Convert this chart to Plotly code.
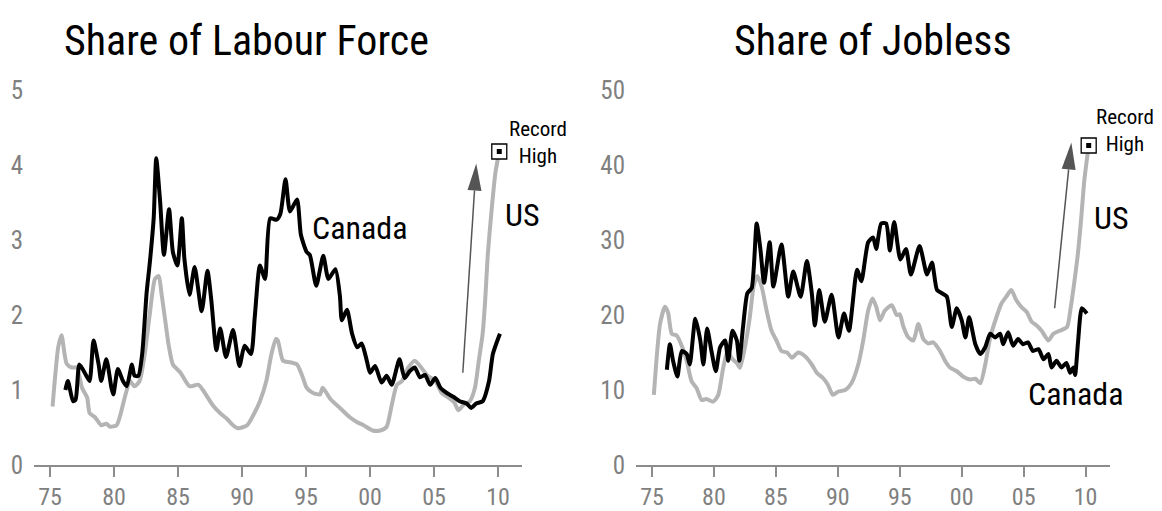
import math
import plotly.graph_objects as go

# ---------------- data ----------------
tick_years = [1975, 1980, 1985, 1990, 1995, 2000, 2005, 2010]
tick_text = ["75", "80", "85", "90", "95", "00", "05", "10"]

lf_us_years = [1975.2, 1975.65, 1975.9, 1976.3, 1976.7, 1977.1, 1977.5, 1977.9, 1978.1, 1978.5,
               1979.0, 1979.4, 1979.7, 1980.2, 1980.5, 1980.9, 1981.25, 1981.6, 1982.0, 1982.4,
               1982.8, 1983.2, 1983.5, 1983.7, 1984.0, 1984.25, 1984.6, 1985.2, 1985.9, 1986.6,
               1987.1, 1987.7, 1988.3, 1988.8, 1989.3, 1989.7, 1990.4, 1990.9, 1991.4, 1991.9,
               1992.3, 1992.65, 1992.8, 1993.2, 1993.75, 1994.3, 1994.7, 1995.05, 1995.55, 1996.1,
               1996.3, 1996.9, 1997.65, 1998.4, 1999.0, 1999.5, 2000.2, 2000.8, 2001.3, 2001.7,
               2002.1, 2002.5, 2003.0, 2003.5, 2004.0, 2004.5, 2005.1, 2005.6, 2006.1, 2006.6,
               2006.9, 2007.3, 2007.8, 2008.2, 2008.5, 2008.8, 2009.0, 2009.2, 2009.5, 2009.8, 2010.1]
lf_us_vals = [0.78, 1.58, 1.73, 1.35, 1.30, 1.30, 1.03, 0.90, 0.69, 0.64,
              0.53, 0.55, 0.51, 0.53, 0.67, 0.94, 1.12, 1.05, 1.12, 1.48,
              2.02, 2.48, 2.52, 2.30, 1.93, 1.62, 1.34, 1.23, 1.05, 1.07,
              0.96, 0.80, 0.69, 0.62, 0.53, 0.49, 0.53, 0.67, 0.85, 1.12,
              1.48, 1.68, 1.66, 1.39, 1.37, 1.34, 1.19, 1.03, 0.96, 0.94,
              1.03, 0.88, 0.76, 0.64, 0.57, 0.53, 0.46, 0.46, 0.51, 0.80,
              1.07, 1.12, 1.30, 1.39, 1.30, 1.19, 1.12, 0.96, 0.90, 0.83,
              0.73, 0.80, 0.85, 1.03, 1.39, 1.75, 2.20, 2.80, 3.40, 3.90, 4.18]

lf_ca_years = [1976.2, 1976.4, 1976.8, 1977.0, 1977.3, 1977.9, 1978.1, 1978.4, 1978.8, 1979.0,
               1979.4, 1979.8, 1979.95, 1980.3, 1980.7, 1981.0, 1981.4, 1981.6, 1981.9, 1982.2,
               1982.55, 1982.8, 1983.1, 1983.3, 1983.6, 1983.9, 1984.3, 1984.6, 1984.95, 1985.3,
               1985.5, 1985.9, 1986.3, 1986.85, 1987.3, 1987.6, 1988.0, 1988.3, 1988.75, 1989.3,
               1989.8, 1990.2, 1990.7, 1991.0, 1991.4, 1991.8, 1992.2, 1992.7, 1993.0, 1993.4,
               1993.75, 1994.3, 1994.6, 1995.05, 1995.3, 1995.8, 1996.35, 1996.75, 1997.3, 1997.65,
               1997.8, 1998.2, 1998.6, 1999.0, 1999.35, 1999.75, 2000.0, 2000.4, 2000.9, 2001.3,
               2001.7, 2002.3, 2002.7, 2003.1, 2003.5, 2003.9, 2004.3, 2004.7, 2005.1, 2005.5,
               2006.0, 2006.5, 2007.0, 2007.55, 2007.9, 2008.3, 2008.8, 2009.3, 2009.6, 2010.15]
lf_ca_vals = [1.00, 1.12, 0.85, 0.87, 1.34, 1.17, 1.12, 1.66, 1.34, 1.12,
              1.41, 1.03, 0.94, 1.28, 1.12, 1.05, 1.34, 1.19, 1.19, 1.48,
              2.30, 2.70, 3.29, 4.09, 3.52, 2.80, 3.41, 2.84, 2.66, 3.29,
              2.75, 2.27, 2.64, 2.05, 2.59, 2.20, 1.53, 1.82, 1.44, 1.80,
              1.32, 1.59, 1.48, 1.98, 2.66, 2.48, 3.29, 3.27, 3.35, 3.81,
              3.38, 3.54, 3.07, 2.84, 2.80, 2.39, 2.79, 2.48, 2.61, 2.25,
              1.93, 2.07, 1.75, 1.57, 1.62, 1.39, 1.23, 1.32, 1.10, 1.19,
              1.07, 1.41, 1.16, 1.25, 1.30, 1.17, 1.20, 1.07, 1.16, 1.03,
              0.96, 0.91, 0.85, 0.82, 0.76, 0.82, 0.85, 1.12, 1.48, 1.75]

jb_us_years = [1975.15, 1975.65, 1976.05, 1976.3, 1976.6, 1977.0, 1977.4, 1977.8, 1978.2, 1978.6,
               1979.0, 1979.4, 1979.95, 1980.35, 1980.75, 1981.1, 1981.4, 1981.85, 1982.1, 1982.5,
               1982.9, 1983.2, 1983.5, 1983.85, 1984.25, 1984.65, 1985.05, 1985.45, 1985.9, 1986.3,
               1986.8, 1987.35, 1987.9, 1988.3, 1988.8, 1989.2, 1989.6, 1990.05, 1990.6, 1991.1,
               1991.65, 1992.05, 1992.45, 1992.8, 1993.1, 1993.4, 1993.8, 1994.35, 1994.75, 1995.0,
               1995.3, 1995.7, 1996.1, 1996.5, 1996.9, 1997.3, 1997.7, 1998.25, 1998.65, 1999.05,
               1999.6, 2000.1, 2000.7, 2001.1, 2001.5, 2001.9, 2002.3, 2002.8, 2003.2, 2003.6,
               2004.0, 2004.4, 2004.8, 2005.25, 2005.65, 2006.05, 2006.45, 2007.0, 2007.4, 2007.9,
               2008.5, 2008.8, 2009.1, 2009.4, 2009.65, 2009.9, 2010.25]
jb_us_vals = [9.35, 18.8, 21.1, 20.3, 17.5, 17.25, 15.9, 13.9, 11.15, 10.26,
              8.67, 8.8, 8.44, 9.35, 12.97, 15.2, 14.3, 13.6, 12.97, 15.7,
              19.75, 23.8, 25.2, 23.8, 20.6, 17.9, 16.6, 15.2, 15.0, 14.3,
              15.0, 14.5, 13.4, 12.3, 11.6, 10.7, 9.35, 9.8, 10.0, 10.9,
              13.4, 16.6, 20.6, 22.2, 21.1, 19.3, 20.6, 21.3, 20.0, 20.1,
              18.4, 17.0, 16.6, 18.8, 16.8, 16.2, 16.35, 15.2, 13.9, 13.0,
              12.5, 11.8, 11.4, 11.5, 10.9, 13.4, 17.0, 19.7, 21.5, 22.45,
              23.35, 22.0, 21.1, 20.4, 19.1, 18.6, 17.9, 16.6, 17.5, 17.9,
              18.4, 21.0, 24.5, 28.5, 33.0, 38.0, 42.6]

jb_ca_years = [1976.2, 1976.45, 1976.7, 1977.05, 1977.4, 1977.8, 1978.05, 1978.5, 1978.9, 1979.15,
               1979.45, 1979.8, 1980.15, 1980.5, 1980.9, 1981.15, 1981.5, 1981.85, 1982.05, 1982.35,
               1982.7, 1983.05, 1983.45, 1983.75, 1984.05, 1984.5, 1984.8, 1985.45, 1986.0, 1986.4,
               1987.0, 1987.5, 1987.9, 1988.15, 1988.5, 1988.95, 1989.5, 1990.05, 1990.5, 1990.9,
               1991.55, 1991.9, 1992.45, 1992.85, 1993.1, 1993.5, 1993.9, 1994.2, 1994.55, 1995.05,
               1995.5, 1995.9, 1996.6, 1997.2, 1997.6, 1998.0, 1998.4, 1998.8, 1999.2, 1999.6,
               2000.0, 2000.3, 2000.6, 2001.1, 2001.5, 2001.9, 2002.3, 2002.7, 2003.1, 2003.35,
               2003.75, 2004.15, 2004.55, 2004.95, 2005.35, 2005.75, 2006.2, 2006.6, 2007.0, 2007.25,
               2007.65, 2008.05, 2008.45, 2008.75, 2009.0, 2009.15, 2009.4, 2009.7, 2010.1]
jb_ca_vals = [12.7, 16.1, 13.9, 11.8, 15.2, 14.8, 13.4, 19.5, 16.6, 13.4,
              18.2, 15.2, 12.5, 15.7, 16.6, 13.9, 17.9, 16.6, 13.9, 18.4,
              22.9, 23.6, 32.2, 28.8, 24.3, 29.7, 23.8, 29.4, 22.45, 25.8,
              22.45, 27.2, 22.9, 18.6, 23.35, 19.1, 22.7, 17.0, 20.2, 17.9,
              26.05, 24.5, 29.7, 30.35, 28.8, 32.2, 32.2, 28.6, 32.4, 27.4,
              28.8, 25.4, 29.2, 25.4, 27.0, 23.35, 22.9, 22.45, 18.4, 20.9,
              19.3, 17.0, 19.7, 16.1, 14.8, 15.7, 17.5, 17.0, 17.5, 16.1,
              17.7, 15.9, 16.8, 16.1, 16.35, 15.2, 15.45, 14.1, 14.8, 13.0,
              13.9, 13.0, 13.6, 12.3, 13.0, 12.0, 16.6, 20.9, 20.2]

# ---------------- layout constants ----------------
W, H = 1162, 511
M_T, M_B = 82, 54
PLOT_H = H - M_T - M_B
FONT = "Roboto Condensed, DejaVu Sans Condensed, sans-serif"
GRAY_TXT = "#808080"
AXIS_COL = "#8c8c8c"
US_COL = "#b4b4b4"
CA_COL = "#000000"
ARROW_COL = "#555555"

left_dom = [26 / W, 514 / W]
right_dom = [628 / W, 1102 / W]
left_xr = [1973.75, 2011.875]
right_xr = [1973.71, 2011.97]
left_yr = [0, 5]
right_yr = [0, 50]

fig = go.Figure()

line_kw = dict(shape="spline", smoothing=0.6, width=4)
fig.add_trace(go.Scatter(x=lf_us_years, y=lf_us_vals, mode="lines",
                         line=dict(color=US_COL, **line_kw), xaxis="x", yaxis="y"))
fig.add_trace(go.Scatter(x=lf_ca_years, y=lf_ca_vals, mode="lines",
                         line=dict(color=CA_COL, **line_kw), xaxis="x", yaxis="y"))
fig.add_trace(go.Scatter(x=jb_us_years, y=jb_us_vals, mode="lines",
                         line=dict(color=US_COL, **line_kw), xaxis="x2", yaxis="y2"))
fig.add_trace(go.Scatter(x=jb_ca_years, y=jb_ca_vals, mode="lines",
                         line=dict(color=CA_COL, **line_kw), xaxis="x2", yaxis="y2"))

# record-high markers on last US point
for xs, ys, xa, ya in [(lf_us_years, lf_us_vals, "x", "y"), (jb_us_years, jb_us_vals, "x2", "y2")]:
    fig.add_trace(go.Scatter(x=[xs[-1]], y=[ys[-1]], mode="markers", xaxis=xa, yaxis=ya, cliponaxis=False,
                             marker=dict(symbol="square", size=15, color="white",
                                         line=dict(color="black", width=1.3))))
    fig.add_trace(go.Scatter(x=[xs[-1]], y=[ys[-1]], mode="markers", xaxis=xa, yaxis=ya, cliponaxis=False,
                             marker=dict(symbol="square", size=5, color="black")))

axis_x = dict(showgrid=False, zeroline=False, showline=True, linecolor=AXIS_COL, linewidth=1.5,
              ticks="outside", ticklen=10, tickwidth=1.5, tickcolor=AXIS_COL,
              tickvals=tick_years, ticktext=tick_text, ticklabelstandoff=-1,
              tickfont=dict(family=FONT, size=24, color=GRAY_TXT))
axis_y = dict(showgrid=False, zeroline=False, showline=False, ticks="",
              ticklabelstandoff=10, tickfont=dict(family=FONT, size=25, color=GRAY_TXT))

fig.update_layout(
    width=W, height=H, showlegend=False,
    paper_bgcolor="white", plot_bgcolor="white",
    margin=dict(l=0, r=0, t=M_T, b=M_B),
    xaxis=dict(domain=left_dom, range=left_xr, anchor="y", **axis_x),
    yaxis=dict(domain=[0, 1], range=left_yr, anchor="x", tickvals=[0, 1, 2, 3, 4, 5], **axis_y),
    xaxis2=dict(domain=right_dom, range=right_xr, anchor="y2", **axis_x),
    yaxis2=dict(domain=[0, 1], range=right_yr, anchor="x2", tickvals=[0, 10, 20, 30, 40, 50], **axis_y),
)


# ---------------- helpers ----------------
def to_paper(x, y, dom, xr, yr):
    px = dom[0] + (x - xr[0]) / (xr[1] - xr[0]) * (dom[1] - dom[0])
    py = (y - yr[0]) / (yr[1] - yr[0])
    return px, py


def to_px(x, y, dom, xr, yr):
    px, py = to_paper(x, y, dom, xr, yr)
    return px * W, M_T + (1 - py) * PLOT_H


def to_data(px, py, dom, xr, yr):
    x = xr[0] + (px / W - dom[0]) / (dom[1] - dom[0]) * (xr[1] - xr[0])
    y = yr[0] + (1 - (py - M_T) / PLOT_H) * (yr[1] - yr[0])
    return x, y


def add_arrow(tail, tip, dom, xr, yr, xref, yref, head_len=27, head_w=14):
    tx, ty = to_px(*tail, dom, xr, yr)
    hx, hy = to_px(*tip, dom, xr, yr)
    dx, dy = hx - tx, hy - ty
    L = math.hypot(dx, dy)
    ux, uy = dx / L, dy / L
    nx, ny = -uy, ux
    bx, by = hx - ux * head_len, hy - uy * head_len
    b_data = to_data(bx, by, dom, xr, yr)
    c1 = to_data(bx + nx * head_w / 2, by + ny * head_w / 2, dom, xr, yr)
    c2 = to_data(bx - nx * head_w / 2, by - ny * head_w / 2, dom, xr, yr)
    fig.add_shape(type="line", xref=xref, yref=yref, x0=tail[0], y0=tail[1],
                  x1=b_data[0], y1=b_data[1], line=dict(color=ARROW_COL, width=1.5))
    path = f"M{tip[0]},{tip[1]} L{c1[0]},{c1[1]} L{c2[0]},{c2[1]} Z"
    fig.add_shape(type="path", xref=xref, yref=yref, path=path,
                  fillcolor=ARROW_COL, line=dict(width=0))


def ann_data(text, x, y, dom, xr, yr, size):
    px, py = to_paper(x, y, dom, xr, yr)
    fig.add_annotation(text=text, x=px, y=py, xref="paper", yref="paper", showarrow=False,
                       xanchor="center", yanchor="middle", align="center",
                       font=dict(family=FONT, size=size, color="black"))


def ann_px(text, cx, cy, size):
    fig.add_annotation(text=text, x=cx / W, y=(H - M_B - cy) / PLOT_H, xref="paper", yref="paper",
                       showarrow=False, xanchor="center", yanchor="middle",
                       font=dict(family=FONT, size=size, color="black"))


add_arrow((2007.25, 1.23), (2008.3, 4.02), left_dom, left_xr, left_yr, "x", "y")
add_arrow((2007.5, 20.9), (2008.85, 43.0), right_dom, right_xr, right_yr, "x2", "y2")

# ---------------- text ----------------
ann_px("Share of Labour Force", 238, 32, 42)
ann_px("Share of Jobless", 865, 32, 42)

ann_data("Canada", 1999.2, 3.16, left_dom, left_xr, left_yr, 32)
ann_data("US", 2011.95, 3.33, left_dom, left_xr, left_yr, 32)
ann_data("Record<br>High", 2013.1, 4.3, left_dom, left_xr, left_yr, 21)

ann_data("Canada", 2009.2, 9.5, right_dom, right_xr, right_yr, 32)
ann_data("US", 2012.1, 33.0, right_dom, right_xr, right_yr, 32)
ann_data("Record<br>High", 2013.2, 44.6, right_dom, right_xr, right_yr, 21)

fig.write_html("out.html")
